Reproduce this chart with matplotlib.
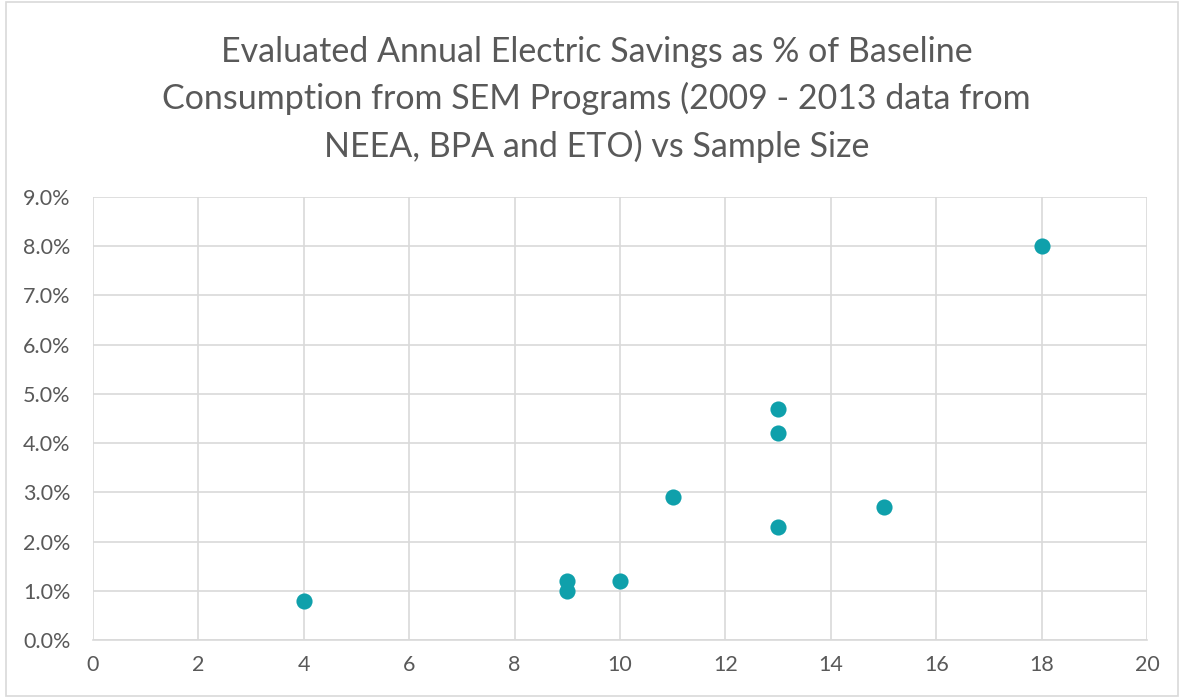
import matplotlib
matplotlib.use("Agg")
import matplotlib.pyplot as plt
from matplotlib.patches import Rectangle
from matplotlib.ticker import PercentFormatter, MultipleLocator

plt.rcParams["font.family"] = ["Lato", "DejaVu Sans"]

# sample size vs evaluated savings (% of baseline)
sample_size = [4, 9, 9, 10, 11, 13, 13, 13, 15, 18]
savings_pct = [0.8, 1.2, 1.0, 1.2, 2.9, 4.7, 4.2, 2.3, 2.7, 8.0]

title = ("Evaluated Annual Electric Savings as % of Baseline\n"
         "Consumption from SEM Programs (2009 - 2013 data from\n"
         "NEEA, BPA and ETO) vs Sample Size")

TEAL = "#0fa0ab"
GRID = "#d9d9d9"
TEXT = "#595959"

fig = plt.figure(figsize=(11.84, 6.98), dpi=100)
ax = fig.add_axes([0.0785, 0.0831, 0.8903, 0.6347])

ax.scatter(sample_size, savings_pct, s=135, color=TEAL, linewidths=0, zorder=3)

ax.set_xlim(0, 20)
ax.set_ylim(0, 9)
ax.xaxis.set_major_locator(MultipleLocator(2))
ax.yaxis.set_major_locator(MultipleLocator(1))
ax.yaxis.set_major_formatter(PercentFormatter(decimals=1))
ax.grid(True, color=GRID, lw=1.2)
ax.set_axisbelow(True)
for side in ["top", "right", "left"]:
    ax.spines[side].set_visible(False)
ax.spines["bottom"].set_color(GRID)
ax.spines["bottom"].set_linewidth(1.2)
ax.tick_params(length=0, labelsize=15.5, colors=TEXT)
ax.tick_params(axis="y", pad=16)
ax.tick_params(axis="x", pad=11)

fig.text(0.504, 0.949, title, ha="center", va="top", fontsize=24.5, color=TEXT,
         linespacing=1.53)

fig.patches.append(Rectangle((0.005, 0.003), 0.99, 0.994, transform=fig.transFigure,
                             fill=False, edgecolor=GRID, lw=1.2))

fig.savefig("out.png", dpi=100)
